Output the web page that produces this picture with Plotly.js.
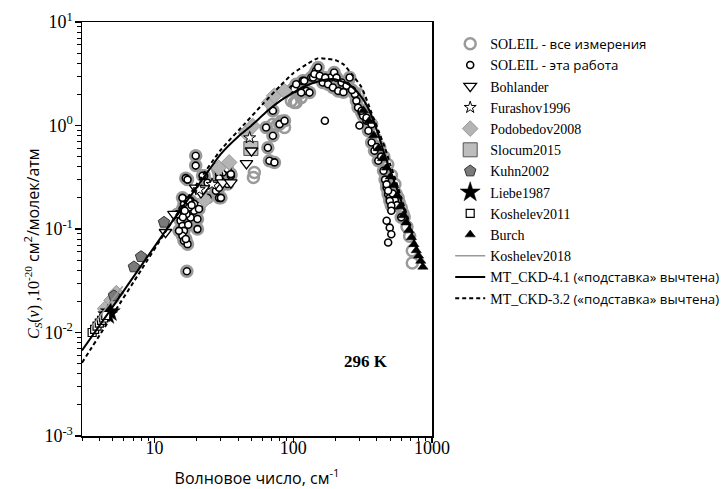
<!DOCTYPE html>
<html>
<head>
<meta charset="utf-8">
<script src="https://cdn.plot.ly/plotly-3.0.1.min.js"></script>
<style>html,body{margin:0;padding:0;background:#fff;}#chart{width:728px;height:489px;}</style>
</head>
<body>
<div id="chart"></div>
<script>
// ---------- data (wavenumber, cm-1 ; continuum Cs, 1e-20 cm2/molec/atm) ----------
// SOLEIL "this work" points that also carry a grey halo (they are part of "all measurements")
const soleilHaloNu = [15.4,15.4,15.9,16.3,15.9,16.3,17.3,16.8,16.3,16.3,15.9,18.2,20.4,20.4,19.3,20.9,18.2,19.8,19.8,22.8,24.1,29.2,27.7,30.1,33.6,31,28.5,35.5,29.2,17.1,15.9,14.6,15.0,16.8,17.3,17.7,19.3,20.9,17.7,22.2,24.1,29.2,29.2,30.1,33.6,35.5,17.0,16.0,18.5,17.5,16.5,
  63.7,71.3,65.6,67.3,73.2,79.6,86.5,71.3,
  99.3,101.7,105,117,124,131,135,120,114,139,146,151,142,155,163,178,187,197,193,211,223,242,255,278,285,293,311,319,337,367,170,205,230,265,
  348,367,385,410,447,459,471,483,496,337,311,400,430,520,540,560,600,471,483,496,509];
const soleilHaloCs = [0.134,0.12,0.107,0.096,0.086,0.077,0.0714,0.31,0.194,0.174,0.156,0.129,0.125,0.0998,0.15,0.168,0.187,0.51,0.41,0.327,0.2,0.2,0.234,0.292,0.272,0.351,0.379,0.327,0.339,0.039,0.2,0.139,0.096,0.08,0.30,0.187,0.175,0.156,0.161,0.327,0.28,0.31,0.25,0.2,0.379,0.339,0.14,0.13,0.17,0.11,0.15,
  0.957,0.795,0.61,0.456,0.44,1.03,1.11,1.39,
  2.25,2.25,2.5,2.7,2.16,2.08,2.91,2.7,2.08,2.91,3.38,3.63,3.14,3.02,2.6,2.5,2.91,3.25,2.33,2.16,2.6,2.42,2.91,2.01,1.73,1.49,1.34,1.24,1.11,1.03,2.9,2.9,2.1,2.2,
  0.89,0.685,0.57,0.456,0.365,0.30,0.252,0.217,0.2,1.19,1.39,0.62,0.5,0.22,0.19,0.17,0.13,0.27,0.234,0.187,0.168];
// SOLEIL "this work" points without halo
const soleilPlainNu = [169,300,471,496,509,483,509];
const soleilPlainCs = [1.11,1.0,0.12,0.103,0.089,0.074,0.15];
// SOLEIL "all measurements" only (grey open circles)
const soleilOnlyNu = [71.3,86.5,52.4,51.6,96.8,105,101.7,114,294,303,249,721,721,76,82,
  420,450,480,510,540,570,600,630,660,690,390,360,330,550,620,580];
const soleilOnlyCs = [1.03,0.957,0.351,0.315,1.73,1.67,1.67,1.86,2.01,1.67,2.7,0.0616,0.047,1.0,1.1,
  0.62,0.5,0.42,0.33,0.27,0.2,0.16,0.13,0.105,0.085,0.75,1.0,1.3,0.22,0.14,0.18];

const bohlanderNu = [12.0,13.8,19.8,21.6,22.5,27.7,31,35.5,46,50];
const bohlanderCs = [0.093,0.139,0.25,0.225,0.245,0.275,0.28,0.28,0.43,0.57];
const furashovNu = [21,26,48.5];
const furashovCs = [0.24,0.27,0.76];
const podobedovNu = [4.4,4.9,5.3,23,29,34.5,45.6,51,67,73,86];
const podobedovCs = [0.017,0.0205,0.024,0.19,0.39,0.44,0.85,0.99,1.67,1.94,2.16];
const slocumNu = [49.5];
const slocumCs = [0.6];
const kuhnNu = [5.1,7.1,8.0,11.7];
const kuhnCs = [0.0226,0.043,0.054,0.116];
const liebeNu = [4.6,4.8];
const liebeCs = [0.0148,0.0158];
const kosh2011Nu = [3.55,3.7,3.85,4.0,4.15,4.3,4.45];
const kosh2011Cs = [0.0100,0.0107,0.0115,0.0123,0.0131,0.0138,0.0146];
const burchNu = [320,350,380,410,440,470,500,530,560,590,620,650,680,710,740,770,800,830,860];
const burchCs = [1.40,1.10,0.80,0.60,0.48,0.39,0.32,0.265,0.21,0.165,0.135,0.115,0.097,0.083,0.071,0.062,0.055,0.049,0.043];
const kosh2018Nu = [3.5,4.0,4.5,5.0,5.5,5.9];
const kosh2018Cs = [0.0112,0.0142,0.0175,0.021,0.025,0.028];
const ckd41Nu = [3,5,8,12,20,30,40,50,65,80,100,120,160,200,250,300,340,370,410,450,500,550,600,650,700,750,800,850];
const ckd41Cs = [0.0067,0.0178,0.044,0.096,0.249,0.53,0.78,1.0,1.38,1.72,2.08,2.38,2.72,2.80,2.5,2.0,1.55,1.2,0.82,0.55,0.37,0.26,0.185,0.135,0.1,0.075,0.058,0.046];
const ckd32Nu = [3,5,8,12,20,30,45,60,80,100,125,150,175,200,230,265,310,365,410,460,500,550,600,650,700,750,800,850];
const ckd32Cs = [0.0051,0.0149,0.040,0.094,0.268,0.58,1.05,1.6,2.4,3.2,3.9,4.45,4.4,4.3,3.9,3.1,2.35,1.35,0.9,0.6,0.42,0.29,0.2,0.145,0.105,0.078,0.06,0.047];

const xTickVals = [10,100,1000];
const xTickText = ['10','100','1000'];
const yTickVals = [0.001,0.01,0.1,1,10];
const yTickText = ['10<sup>-3</sup>','10<sup>-2</sup>','10<sup>-1</sup>','10<sup>0</sup>','10<sup>1</sup>'];

// ---------- build ----------
const SANS = "'Open Sans'";
const SERIF = 'Liberation Serif, Times New Roman, serif';
function ru(t){ return '<span style="font-family:' + SANS + ';font-size:13.3px">' + t + '</span>'; }

const xMinor = [], yMinor = [];
[1,10,100].forEach(d => { for (let k=2;k<=9;k++) xMinor.push(k*d); });
[0.001,0.01,0.1,1].forEach(d => { for (let k=2;k<=9;k++) yMinor.push(k*d); });

const traces = [
  {name: 'SOLEIL' + ru(' - все измерения'), legendrank: 1,
   x: soleilHaloNu.concat(soleilOnlyNu), y: soleilHaloCs.concat(soleilOnlyCs),
   mode: 'markers', type: 'scatter',
   marker: {symbol: 'circle', size: 11, color: 'rgba(255,255,255,0)', line: {color: '#9a9a9a', width: 2.5}}},
  {name: 'SOLEIL' + ru(' - эта работа'), legendrank: 2,
   x: soleilHaloNu.concat(soleilPlainNu), y: soleilHaloCs.concat(soleilPlainCs),
   mode: 'markers', type: 'scatter',
   marker: {symbol: 'circle', size: 7, color: '#fff', line: {color: '#000', width: 1.6}}},
  {name: 'Podobedov2008', legendrank: 5, x: podobedovNu, y: podobedovCs, mode: 'markers', type: 'scatter',
   marker: {symbol: 'diamond', size: 12, color: '#b4b4b4', line: {color: '#9a9a9a', width: 1}}},
  {name: 'Slocum2015', legendrank: 6, x: slocumNu, y: slocumCs, mode: 'markers', type: 'scatter',
   marker: {symbol: 'square', size: 14, color: '#bdbdbd', line: {color: '#555', width: 1}}},
  {name: 'Bohlander', legendrank: 3, x: bohlanderNu, y: bohlanderCs, mode: 'markers', type: 'scatter',
   marker: {symbol: 'triangle-down', size: 11, color: '#fff', line: {color: '#000', width: 1.3}}},
  {name: 'Furashov1996', legendrank: 4, x: furashovNu, y: furashovCs, mode: 'markers', type: 'scatter',
   marker: {symbol: 'star', size: 9, color: '#fff', line: {color: '#000', width: 1}}},
  {name: 'Kuhn2002', legendrank: 7, x: kuhnNu, y: kuhnCs, mode: 'markers', type: 'scatter',
   marker: {symbol: 'pentagon', size: 12, color: '#7a7a7a', line: {color: '#333', width: 1}}},
  {name: 'Liebe1987', legendrank: 8, x: liebeNu, y: liebeCs, mode: 'markers', type: 'scatter',
   marker: {symbol: 'star', size: 15, color: '#000', line: {color: '#000', width: 0.5}}},
  {name: 'Koshelev2011', legendrank: 9, x: kosh2011Nu, y: kosh2011Cs, mode: 'markers', type: 'scatter',
   marker: {symbol: 'square', size: 8, color: '#fff', line: {color: '#000', width: 1.2}}},
  {name: 'Burch', legendrank: 10, x: burchNu, y: burchCs, mode: 'markers', type: 'scatter',
   marker: {symbol: 'triangle-up', size: 9, color: '#000', line: {color: '#000', width: 0.5}}},
  {name: 'Koshelev2018', legendrank: 11, x: kosh2018Nu, y: kosh2018Cs, mode: 'lines', type: 'scatter',
   line: {color: '#999', width: 1.5}},
  {name: 'MT_CKD-4.1' + ru(' («подставка» вычтена)'), legendrank: 12, x: ckd41Nu, y: ckd41Cs,
   mode: 'lines', type: 'scatter', line: {color: '#000', width: 2, shape: 'spline', smoothing: 0.6}},
  {name: 'MT_CKD-3.2' + ru(' («подставка» вычтена)'), legendrank: 13, x: ckd32Nu, y: ckd32Cs,
   mode: 'lines', type: 'scatter', line: {color: '#000', width: 2, dash: '4px,3px', shape: 'spline', smoothing: 0.6}}
];

const axisCommon = {
  type: 'log', showgrid: false, zeroline: false,
  showline: true, linecolor: '#000', linewidth: 1.5, mirror: true,
  ticks: 'outside', tickwidth: 1.5, tickcolor: '#000',
  tickmode: 'array',
  tickfont: {family: SERIF, size: 18, color: '#000'}
};

const layout = {
  width: 728, height: 489,
  margin: {l: 82, r: 296, t: 22, b: 53, autoexpand: false},
  paper_bgcolor: '#fff', plot_bgcolor: '#fff',
  showlegend: true,
  xaxis: Object.assign({}, axisCommon, {
    range: [Math.log10(3), 3], tickvals: xTickVals, ticktext: xTickText,
    ticklen: 5, ticklabelstandoff: -10,
    minor: {tickvals: xMinor, ticks: 'outside', ticklen: 3, tickwidth: 1, tickcolor: '#000'},
    title: {text: 'Волновое число, см<sup>-1</sup>', font: {family: SANS, size: 16, color: '#000'}, standoff: 22}
  }),
  yaxis: Object.assign({}, axisCommon, {
    range: [-3, 1], tickvals: yTickVals, ticktext: yTickText,
    ticklen: 6, ticklabelstandoff: -2,
    minor: {tickvals: yMinor, ticks: 'outside', ticklen: 4, tickwidth: 1, tickcolor: '#000'}
  }),
  legend: {
    x: 1.052, y: 0.985, xanchor: 'left', yanchor: 'top',
    bgcolor: 'rgba(0,0,0,0)', borderwidth: 0,
    font: {family: SERIF, size: 14, color: '#000'},
    traceorder: 'normal', itemsizing: 'trace'
  },
  annotations: [
    {xref: 'paper', yref: 'paper', x: 0.811, y: 0.179, xanchor: 'center', yanchor: 'middle', showarrow: false,
     text: '<b>296 K</b>', font: {family: SERIF, size: 17, color: '#000'}},
    {xref: 'paper', yref: 'paper', x: -0.143, y: 0.466, xanchor: 'center', yanchor: 'middle', showarrow: false,
     textangle: -90,
     text: '<span style="font-family:Liberation Serif"><i>C<sub>S</sub></i>(<i>ν</i>) ,10<sup>-20</sup></span> см<sup>2</sup>/молек/атм',
     font: {family: SANS, size: 16, color: '#000'}}
  ]
};

Plotly.newPlot('chart', traces, layout, {displayModeBar: false, staticPlot: true});
</script>
</body>
</html>
